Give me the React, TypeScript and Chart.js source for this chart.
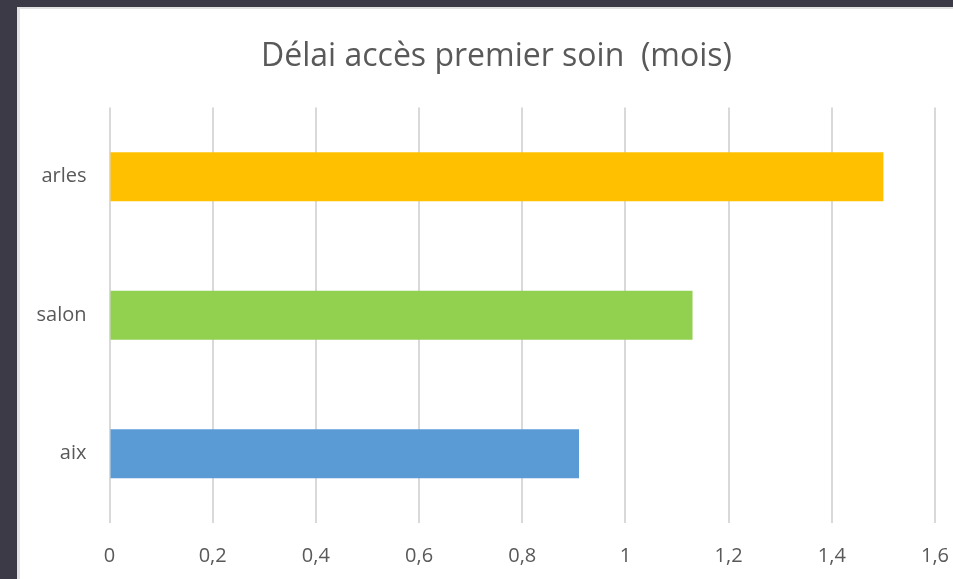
import React, { useEffect, useRef } from "react";
import { Chart, registerables } from "chart.js";

Chart.register(...registerables);

const categories = ["arles", "salon", "aix"];
const delaiMois = [1.5, 1.13, 0.91];
const barColors = ["#FFC000", "#92D050", "#5B9BD5"];
const xTickLabels = ["0", "0,2", "0,4", "0,6", "0,8", "1", "1,2", "1,4", "1,6"];
const chartTitle = "Délai accès premier soin  (mois)";

const FONT = "'Open Sans', Lato, sans-serif";
const TEXT = "#595959";

export default function App() {
  const ref = useRef<HTMLCanvasElement | null>(null);

  useEffect(() => {
    if (!ref.current) return;
    const chart = new Chart(ref.current, {
      type: "bar",
      data: {
        labels: categories,
        datasets: [
          {
            data: delaiMois,
            backgroundColor: barColors,
            borderWidth: 0,
            barPercentage: 0.354,
            categoryPercentage: 1,
          },
        ],
      },
      options: {
        indexAxis: "y",
        responsive: false,
        animation: false,
        devicePixelRatio: 1,
        layout: { padding: { top: 98.5, left: 0, right: 38, bottom: 0 } },
        plugins: {
          legend: { display: false },
          tooltip: { enabled: false },
          title: { display: false },
        },
        scales: {
          x: {
            type: "linear",
            min: 0,
            max: 1.6,
            afterFit: (s: any) => {
              s.height = 56;
            },
            afterBuildTicks: (s: any) => {
              s.ticks = xTickLabels.map((_, i) => ({ value: i * 0.2 }));
            },
            ticks: {
              color: TEXT,
              font: { family: FONT, size: 20 },
              padding: 21.5,
              maxRotation: 0,
              autoSkip: false,
              callback: (_v: any, i: number) => xTickLabels[i],
            },
            grid: {
              color: "#d9d9d9",
              lineWidth: 2,
              drawTicks: false,
            },
            border: { display: false },
          },
          y: {
            afterFit: (s: any) => {
              s.width = 89.5;
            },
            ticks: {
              color: TEXT,
              font: { family: FONT, size: 20 },
              padding: 23,
            },
            grid: { display: false, drawTicks: false },
            border: { display: false },
          },
        },
      },
    });
    return () => chart.destroy();
  }, []);

  return (
    <div
      style={{
        position: "fixed",
        left: 0,
        top: 0,
        width: "100vw",
        height: "100vh",
        background: "#3b3a46",
        overflow: "hidden",
      }}
    >
      <div
        style={{
          position: "absolute",
          left: 17,
          top: 7,
          width: 1000,
          height: 700,
          background: "#ffffff",
          borderTop: "2px solid #e2e2e2",
          borderLeft: "3px solid #e2e2e2",
        }}
      >
        <canvas
          ref={ref}
          width={953}
          height={570}
          style={{ display: "block", width: 953, height: 570 }}
        />
        <div
          style={{
            position: "absolute",
            left: 0,
            top: 25.8,
            width: 953,
            height: 38.4,
            lineHeight: "38.4px",
            textAlign: "center",
            fontFamily: FONT,
            fontSize: 32,
            color: TEXT,
            whiteSpace: "pre",
          }}
        >
          {chartTitle}
        </div>
      </div>
    </div>
  );
}
